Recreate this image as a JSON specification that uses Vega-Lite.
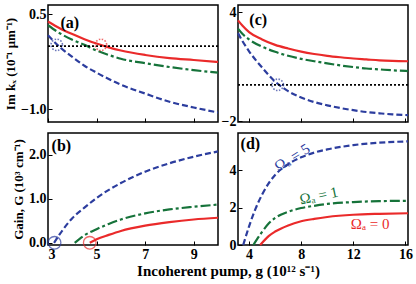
{
  "$schema": "https://vega.github.io/schema/vega-lite/v6.json",
  "padding": {"left": 3, "top": 4, "right": 3, "bottom": 3},
  "background": "white",
  "config": {
    "view": {"stroke": "black", "strokeWidth": 1.5},
    "axis": {"domain": false, "grid": false, "ticks": true, "tickColor": "black", "tickWidth": 1, "tickSize": -4, "labelPadding": 6, "labelOverlap": false,
      "labelFont": "Liberation Serif", "labelFontWeight": "bold", "labelFontSize": 14, "labelColor": "black",
      "titleFont": "Liberation Serif", "titleFontWeight": "bold", "titleFontSize": 13, "titleColor": "black", "titlePadding": 3}
  },
  "datasets": {
    "curves": [
      {"p": "a", "s": "0", "g": 3, "v": 0.39}, {"p": "a", "s": "0", "g": 3.5, "v": 0.28}, {"p": "a", "s": "0", "g": 4, "v": 0.19}, {"p": "a", "s": "0", "g": 4.5, "v": 0.11}, {"p": "a", "s": "0", "g": 5, "v": 0.04}, {"p": "a", "s": "0", "g": 5.5, "v": -0.02}, {"p": "a", "s": "0", "g": 6, "v": -0.07}, {"p": "a", "s": "0", "g": 7, "v": -0.14}, {"p": "a", "s": "0", "g": 8, "v": -0.19}, {"p": "a", "s": "0", "g": 9, "v": -0.22}, {"p": "a", "s": "0", "g": 10, "v": -0.25},
      {"p": "a", "s": "1", "g": 3, "v": 0.33}, {"p": "a", "s": "1", "g": 3.5, "v": 0.2}, {"p": "a", "s": "1", "g": 4, "v": 0.1}, {"p": "a", "s": "1", "g": 4.5, "v": 0.02}, {"p": "a", "s": "1", "g": 5, "v": -0.07}, {"p": "a", "s": "1", "g": 5.5, "v": -0.14}, {"p": "a", "s": "1", "g": 6, "v": -0.2}, {"p": "a", "s": "1", "g": 7, "v": -0.27}, {"p": "a", "s": "1", "g": 8, "v": -0.33}, {"p": "a", "s": "1", "g": 9, "v": -0.38}, {"p": "a", "s": "1", "g": 10, "v": -0.42},
      {"p": "a", "s": "5", "g": 3, "v": 0.17}, {"p": "a", "s": "5", "g": 3.5, "v": -0.02}, {"p": "a", "s": "5", "g": 4, "v": -0.17}, {"p": "a", "s": "5", "g": 4.5, "v": -0.31}, {"p": "a", "s": "5", "g": 5, "v": -0.42}, {"p": "a", "s": "5", "g": 5.5, "v": -0.52}, {"p": "a", "s": "5", "g": 6, "v": -0.61}, {"p": "a", "s": "5", "g": 7, "v": -0.75}, {"p": "a", "s": "5", "g": 8, "v": -0.88}, {"p": "a", "s": "5", "g": 9, "v": -0.97}, {"p": "a", "s": "5", "g": 10, "v": -1.05},
      {"p": "b", "s": "0", "g": 4.72, "v": 0}, {"p": "b", "s": "0", "g": 5, "v": 0.08}, {"p": "b", "s": "0", "g": 5.5, "v": 0.18}, {"p": "b", "s": "0", "g": 6, "v": 0.27}, {"p": "b", "s": "0", "g": 7, "v": 0.39}, {"p": "b", "s": "0", "g": 8, "v": 0.47}, {"p": "b", "s": "0", "g": 9, "v": 0.53}, {"p": "b", "s": "0", "g": 10, "v": 0.57},
      {"p": "b", "s": "1", "g": 4.1, "v": 0}, {"p": "b", "s": "1", "g": 4.5, "v": 0.17}, {"p": "b", "s": "1", "g": 5, "v": 0.31}, {"p": "b", "s": "1", "g": 5.5, "v": 0.43}, {"p": "b", "s": "1", "g": 6, "v": 0.53}, {"p": "b", "s": "1", "g": 7, "v": 0.67}, {"p": "b", "s": "1", "g": 8, "v": 0.76}, {"p": "b", "s": "1", "g": 9, "v": 0.82}, {"p": "b", "s": "1", "g": 10, "v": 0.87},
      {"p": "b", "s": "5", "g": 3.25, "v": 0}, {"p": "b", "s": "5", "g": 3.5, "v": 0.21}, {"p": "b", "s": "5", "g": 4, "v": 0.56}, {"p": "b", "s": "5", "g": 4.5, "v": 0.8}, {"p": "b", "s": "5", "g": 5, "v": 1.02}, {"p": "b", "s": "5", "g": 6, "v": 1.36}, {"p": "b", "s": "5", "g": 7, "v": 1.62}, {"p": "b", "s": "5", "g": 8, "v": 1.81}, {"p": "b", "s": "5", "g": 9, "v": 1.96}, {"p": "b", "s": "5", "g": 10, "v": 2.08},
      {"p": "c", "s": "0", "g": 3.15, "v": 3.55}, {"p": "c", "s": "0", "g": 3.5, "v": 3.25}, {"p": "c", "s": "0", "g": 4, "v": 2.9}, {"p": "c", "s": "0", "g": 5, "v": 2.5}, {"p": "c", "s": "0", "g": 6, "v": 2.2}, {"p": "c", "s": "0", "g": 7, "v": 2.0}, {"p": "c", "s": "0", "g": 8, "v": 1.83}, {"p": "c", "s": "0", "g": 9, "v": 1.7}, {"p": "c", "s": "0", "g": 10, "v": 1.6}, {"p": "c", "s": "0", "g": 11, "v": 1.52}, {"p": "c", "s": "0", "g": 12, "v": 1.45}, {"p": "c", "s": "0", "g": 13, "v": 1.4}, {"p": "c", "s": "0", "g": 14, "v": 1.35}, {"p": "c", "s": "0", "g": 15, "v": 1.32}, {"p": "c", "s": "0", "g": 16.2, "v": 1.3},
      {"p": "c", "s": "1", "g": 3.15, "v": 3.1}, {"p": "c", "s": "1", "g": 3.5, "v": 2.8}, {"p": "c", "s": "1", "g": 4, "v": 2.5}, {"p": "c", "s": "1", "g": 5, "v": 2.1}, {"p": "c", "s": "1", "g": 6, "v": 1.82}, {"p": "c", "s": "1", "g": 7, "v": 1.6}, {"p": "c", "s": "1", "g": 8, "v": 1.43}, {"p": "c", "s": "1", "g": 9, "v": 1.3}, {"p": "c", "s": "1", "g": 10, "v": 1.18}, {"p": "c", "s": "1", "g": 11, "v": 1.07}, {"p": "c", "s": "1", "g": 12, "v": 0.98}, {"p": "c", "s": "1", "g": 13, "v": 0.9}, {"p": "c", "s": "1", "g": 14, "v": 0.85}, {"p": "c", "s": "1", "g": 15, "v": 0.8}, {"p": "c", "s": "1", "g": 16.2, "v": 0.76},
      {"p": "c", "s": "5", "g": 3.15, "v": 2.85}, {"p": "c", "s": "5", "g": 3.5, "v": 2.4}, {"p": "c", "s": "5", "g": 4, "v": 1.85}, {"p": "c", "s": "5", "g": 5, "v": 0.95}, {"p": "c", "s": "5", "g": 6, "v": 0.18}, {"p": "c", "s": "5", "g": 7, "v": -0.35}, {"p": "c", "s": "5", "g": 8, "v": -0.7}, {"p": "c", "s": "5", "g": 9, "v": -0.95}, {"p": "c", "s": "5", "g": 10, "v": -1.13}, {"p": "c", "s": "5", "g": 11, "v": -1.28}, {"p": "c", "s": "5", "g": 12, "v": -1.4}, {"p": "c", "s": "5", "g": 13, "v": -1.5}, {"p": "c", "s": "5", "g": 14, "v": -1.57}, {"p": "c", "s": "5", "g": 15, "v": -1.63}, {"p": "c", "s": "5", "g": 16.2, "v": -1.67},
      {"p": "d", "s": "0", "g": 4.85, "v": 0}, {"p": "d", "s": "0", "g": 5.5, "v": 0.48}, {"p": "d", "s": "0", "g": 6, "v": 0.72}, {"p": "d", "s": "0", "g": 7, "v": 1.05}, {"p": "d", "s": "0", "g": 8, "v": 1.27}, {"p": "d", "s": "0", "g": 9, "v": 1.4}, {"p": "d", "s": "0", "g": 10, "v": 1.5}, {"p": "d", "s": "0", "g": 12, "v": 1.62}, {"p": "d", "s": "0", "g": 14, "v": 1.67}, {"p": "d", "s": "0", "g": 16.2, "v": 1.7},
      {"p": "d", "s": "1", "g": 4.33, "v": 0}, {"p": "d", "s": "1", "g": 5, "v": 0.7}, {"p": "d", "s": "1", "g": 5.5, "v": 1.15}, {"p": "d", "s": "1", "g": 6, "v": 1.45}, {"p": "d", "s": "1", "g": 7, "v": 1.78}, {"p": "d", "s": "1", "g": 8, "v": 1.98}, {"p": "d", "s": "1", "g": 9, "v": 2.1}, {"p": "d", "s": "1", "g": 10, "v": 2.2}, {"p": "d", "s": "1", "g": 12, "v": 2.3}, {"p": "d", "s": "1", "g": 14, "v": 2.35}, {"p": "d", "s": "1", "g": 16.2, "v": 2.37},
      {"p": "d", "s": "5", "g": 3.55, "v": 0}, {"p": "d", "s": "5", "g": 4, "v": 1.0}, {"p": "d", "s": "5", "g": 4.5, "v": 1.95}, {"p": "d", "s": "5", "g": 5, "v": 2.7}, {"p": "d", "s": "5", "g": 5.5, "v": 3.3}, {"p": "d", "s": "5", "g": 6, "v": 3.75}, {"p": "d", "s": "5", "g": 7, "v": 4.33}, {"p": "d", "s": "5", "g": 8, "v": 4.7}, {"p": "d", "s": "5", "g": 9, "v": 4.95}, {"p": "d", "s": "5", "g": 10, "v": 5.12}, {"p": "d", "s": "5", "g": 12, "v": 5.35}, {"p": "d", "s": "5", "g": 14, "v": 5.48}, {"p": "d", "s": "5", "g": 16.2, "v": 5.55}
    ],
    "circles": [
      {"p": "a", "s": "5", "g": 3.36, "v": 0.02},
      {"p": "a", "s": "0", "g": 5.18, "v": 0.02},
      {"p": "c", "s": "5", "g": 6.2, "v": 0.0},
      {"p": "b", "s": "5", "g": 3.27, "v": 0.0},
      {"p": "b", "s": "0", "g": 4.72, "v": 0.0}
    ],
    "labels": [
      {"p": "a", "g": 3.9, "v": 0.37, "t": "(a)"},
      {"p": "b", "g": 3.55, "v": 2.2, "t": "(b)"},
      {"p": "c", "g": 4.7, "v": 3.55, "t": "(c)"},
      {"p": "d", "g": 4.1, "v": 5.4, "t": "(d)"},
      {"p": "o5", "g": 7.3, "v": 4.7, "t": "Ωₐ = 5"},
      {"p": "o1", "g": 9.35, "v": 2.65, "t": "Ωₐ = 1"},
      {"p": "o0", "g": 13.3, "v": 1.1, "t": "Ωₐ = 0"}
    ]
  },
  "columns": 2,
  "spacing": {"row": 11, "column": 20},
  "bounds": "flush",
  "resolve": {"scale": {"x": "independent", "y": "independent"}},
  "concat": [
    {
      "width": 170, "height": 117,
      "layer": [
        {"data": {"name": "curves"}, "transform": [{"filter": "datum.p === 'a' && datum.s === '0'"}],
         "mark": {"type": "line", "interpolate": "monotone", "strokeWidth": 2.2, "color": "#ea2a2a"},
         "encoding": {
           "x": {"field": "g", "type": "quantitative", "scale": {"domain": [3, 10], "nice": false, "zero": false}, "axis": {"values": [3, 4, 5, 6, 7, 8, 9, 10], "labels": false, "title": null}},
           "y": {"field": "v", "type": "quantitative", "scale": {"domain": [-1.2, 0.65], "nice": false, "zero": false}, "axis": {"values": [-1, -0.5, 0, 0.5], "format": ".1f", "title": "Im kₓ (10⁻¹ μm⁻¹)"}}
         }},
        {"data": {"name": "curves"}, "transform": [{"filter": "datum.p === 'a' && datum.s === '1'"}],
         "mark": {"type": "line", "interpolate": "monotone", "strokeWidth": 2.2, "color": "#16733a", "strokeDash": [10, 3, 3, 3]},
         "encoding": {"x": {"field": "g", "type": "quantitative"}, "y": {"field": "v", "type": "quantitative"}}},
        {"data": {"name": "curves"}, "transform": [{"filter": "datum.p === 'a' && datum.s === '5'"}],
         "mark": {"type": "line", "interpolate": "monotone", "strokeWidth": 2.2, "color": "#2c3d9e", "strokeDash": [6, 3]},
         "encoding": {"x": {"field": "g", "type": "quantitative"}, "y": {"field": "v", "type": "quantitative"}}},
        {"data": {"values": [{"z": 0}]}, "mark": {"type": "rule", "color": "black", "strokeDash": [2, 2], "strokeWidth": 1.8}, "encoding": {"y": {"field": "z", "type": "quantitative"}}},
        {"data": {"name": "circles"}, "transform": [{"filter": "datum.p === 'a' && datum.s === '5'"}],
         "mark": {"type": "point", "shape": "circle", "filled": false, "size": 130, "strokeDash": [1.5, 1.5], "strokeWidth": 1.6, "color": "#2c3d9e"},
         "encoding": {"x": {"field": "g", "type": "quantitative"}, "y": {"field": "v", "type": "quantitative"}}},
        {"data": {"name": "circles"}, "transform": [{"filter": "datum.p === 'a' && datum.s === '0'"}],
         "mark": {"type": "point", "shape": "circle", "filled": false, "size": 130, "strokeDash": [1.5, 1.5], "strokeWidth": 1.6, "color": "#ea2a2a"},
         "encoding": {"x": {"field": "g", "type": "quantitative"}, "y": {"field": "v", "type": "quantitative"}}},
        {"data": {"name": "labels"}, "transform": [{"filter": "datum.p === 'a'"}],
         "mark": {"type": "text", "font": "Liberation Serif", "fontWeight": "bold", "fontSize": 16, "color": "black"},
         "encoding": {"x": {"field": "g", "type": "quantitative"}, "y": {"field": "v", "type": "quantitative"}, "text": {"field": "t"}}}
      ]
    },
    {
      "width": 170, "height": 117,
      "layer": [
        {"data": {"name": "curves"}, "transform": [{"filter": "datum.p === 'c' && datum.s === '0'"}],
         "mark": {"type": "line", "interpolate": "monotone", "strokeWidth": 2.2, "color": "#ea2a2a"},
         "encoding": {
           "x": {"field": "g", "type": "quantitative", "scale": {"domain": [3.15, 16.2], "nice": false, "zero": false}, "axis": {"values": [4, 6, 8, 10, 12, 14, 16], "labels": false, "title": null}},
           "y": {"field": "v", "type": "quantitative", "scale": {"domain": [-2.05, 4.4], "nice": false, "zero": false}, "axis": {"values": [-2, -1, 0, 1, 2, 3, 4], "title": null}}
         }},
        {"data": {"name": "curves"}, "transform": [{"filter": "datum.p === 'c' && datum.s === '1'"}],
         "mark": {"type": "line", "interpolate": "monotone", "strokeWidth": 2.2, "color": "#16733a", "strokeDash": [10, 3, 3, 3]},
         "encoding": {"x": {"field": "g", "type": "quantitative"}, "y": {"field": "v", "type": "quantitative"}}},
        {"data": {"name": "curves"}, "transform": [{"filter": "datum.p === 'c' && datum.s === '5'"}],
         "mark": {"type": "line", "interpolate": "monotone", "strokeWidth": 2.2, "color": "#2c3d9e", "strokeDash": [6, 3]},
         "encoding": {"x": {"field": "g", "type": "quantitative"}, "y": {"field": "v", "type": "quantitative"}}},
        {"data": {"values": [{"z": 0}]}, "mark": {"type": "rule", "color": "black", "strokeDash": [2, 2], "strokeWidth": 1.8}, "encoding": {"y": {"field": "z", "type": "quantitative"}}},
        {"data": {"name": "circles"}, "transform": [{"filter": "datum.p === 'c'"}],
         "mark": {"type": "point", "shape": "circle", "filled": false, "size": 130, "strokeDash": [1.5, 1.5], "strokeWidth": 1.6, "color": "#2c3d9e"},
         "encoding": {"x": {"field": "g", "type": "quantitative"}, "y": {"field": "v", "type": "quantitative"}}},
        {"data": {"name": "labels"}, "transform": [{"filter": "datum.p === 'c'"}],
         "mark": {"type": "text", "font": "Liberation Serif", "fontWeight": "bold", "fontSize": 16, "color": "black"},
         "encoding": {"x": {"field": "g", "type": "quantitative"}, "y": {"field": "v", "type": "quantitative"}, "text": {"field": "t"}}}
      ]
    },
    {
      "width": 170, "height": 112,
      "layer": [
        {"data": {"name": "curves"}, "transform": [{"filter": "datum.p === 'b' && datum.s === '0'"}],
         "mark": {"type": "line", "interpolate": "monotone", "strokeWidth": 2.2, "color": "#ea2a2a"},
         "encoding": {
           "x": {"field": "g", "type": "quantitative", "scale": {"domain": [3, 10], "nice": false, "zero": false}, "axis": {"values": [3, 4, 5, 6, 7, 8, 9, 10], "title": "Incoherent pump, g (10¹² s⁻¹)", "titleFontSize": 15, "titleX": 180, "titleAlign": "center", "titlePadding": 2}},
           "y": {"field": "v", "type": "quantitative", "scale": {"domain": [-0.05, 2.5], "nice": false, "zero": false}, "axis": {"values": [0, 0.5, 1, 1.5, 2], "format": ".1f", "title": "Gain, G (10³ cm⁻¹)"}}
         }},
        {"data": {"name": "curves"}, "transform": [{"filter": "datum.p === 'b' && datum.s === '1'"}],
         "mark": {"type": "line", "interpolate": "monotone", "strokeWidth": 2.2, "color": "#16733a", "strokeDash": [10, 3, 3, 3]},
         "encoding": {"x": {"field": "g", "type": "quantitative"}, "y": {"field": "v", "type": "quantitative"}}},
        {"data": {"name": "curves"}, "transform": [{"filter": "datum.p === 'b' && datum.s === '5'"}],
         "mark": {"type": "line", "interpolate": "monotone", "strokeWidth": 2.2, "color": "#2c3d9e", "strokeDash": [6, 3]},
         "encoding": {"x": {"field": "g", "type": "quantitative"}, "y": {"field": "v", "type": "quantitative"}}},
        {"data": {"name": "circles"}, "transform": [{"filter": "datum.p === 'b' && datum.s === '5'"}],
         "mark": {"type": "point", "shape": "circle", "filled": false, "size": 160, "strokeWidth": 1.3, "color": "#2c3d9e"},
         "encoding": {"x": {"field": "g", "type": "quantitative"}, "y": {"field": "v", "type": "quantitative"}}},
        {"data": {"name": "circles"}, "transform": [{"filter": "datum.p === 'b' && datum.s === '0'"}],
         "mark": {"type": "point", "shape": "circle", "filled": false, "size": 160, "strokeWidth": 1.3, "color": "#ea2a2a"},
         "encoding": {"x": {"field": "g", "type": "quantitative"}, "y": {"field": "v", "type": "quantitative"}}},
        {"data": {"name": "labels"}, "transform": [{"filter": "datum.p === 'b'"}],
         "mark": {"type": "text", "font": "Liberation Serif", "fontWeight": "bold", "fontSize": 16, "color": "black"},
         "encoding": {"x": {"field": "g", "type": "quantitative"}, "y": {"field": "v", "type": "quantitative"}, "text": {"field": "t"}}}
      ]
    },
    {
      "width": 170, "height": 112,
      "layer": [
        {"data": {"name": "curves"}, "transform": [{"filter": "datum.p === 'd' && datum.s === '0'"}],
         "mark": {"type": "line", "interpolate": "monotone", "strokeWidth": 2.2, "color": "#ea2a2a"},
         "encoding": {
           "x": {"field": "g", "type": "quantitative", "scale": {"domain": [3.15, 16.2], "nice": false, "zero": false}, "axis": {"values": [4, 6, 8, 10, 12, 14, 16], "title": null}},
           "y": {"field": "v", "type": "quantitative", "scale": {"domain": [0, 6.0], "nice": false, "zero": false}, "axis": {"values": [0, 1, 2, 3, 4, 5], "title": null}}
         }},
        {"data": {"name": "curves"}, "transform": [{"filter": "datum.p === 'd' && datum.s === '1'"}],
         "mark": {"type": "line", "interpolate": "monotone", "strokeWidth": 2.2, "color": "#16733a", "strokeDash": [10, 3, 3, 3]},
         "encoding": {"x": {"field": "g", "type": "quantitative"}, "y": {"field": "v", "type": "quantitative"}}},
        {"data": {"name": "curves"}, "transform": [{"filter": "datum.p === 'd' && datum.s === '5'"}],
         "mark": {"type": "line", "interpolate": "monotone", "strokeWidth": 2.2, "color": "#2c3d9e", "strokeDash": [6, 3]},
         "encoding": {"x": {"field": "g", "type": "quantitative"}, "y": {"field": "v", "type": "quantitative"}}},
        {"data": {"name": "labels"}, "transform": [{"filter": "datum.p === 'o5'"}],
         "mark": {"type": "text", "font": "Liberation Serif", "fontSize": 15, "color": "#2c3d9e", "angle": 328},
         "encoding": {"x": {"field": "g", "type": "quantitative"}, "y": {"field": "v", "type": "quantitative"}, "text": {"field": "t"}}},
        {"data": {"name": "labels"}, "transform": [{"filter": "datum.p === 'o1'"}],
         "mark": {"type": "text", "font": "Liberation Serif", "fontSize": 15, "color": "#16733a", "angle": 348},
         "encoding": {"x": {"field": "g", "type": "quantitative"}, "y": {"field": "v", "type": "quantitative"}, "text": {"field": "t"}}},
        {"data": {"name": "labels"}, "transform": [{"filter": "datum.p === 'o0'"}],
         "mark": {"type": "text", "font": "Liberation Serif", "fontSize": 15, "color": "#ea2a2a"},
         "encoding": {"x": {"field": "g", "type": "quantitative"}, "y": {"field": "v", "type": "quantitative"}, "text": {"field": "t"}}},
        {"data": {"name": "labels"}, "transform": [{"filter": "datum.p === 'd'"}],
         "mark": {"type": "text", "font": "Liberation Serif", "fontWeight": "bold", "fontSize": 16, "color": "black"},
         "encoding": {"x": {"field": "g", "type": "quantitative"}, "y": {"field": "v", "type": "quantitative"}, "text": {"field": "t"}}}
      ]
    }
  ]
}
